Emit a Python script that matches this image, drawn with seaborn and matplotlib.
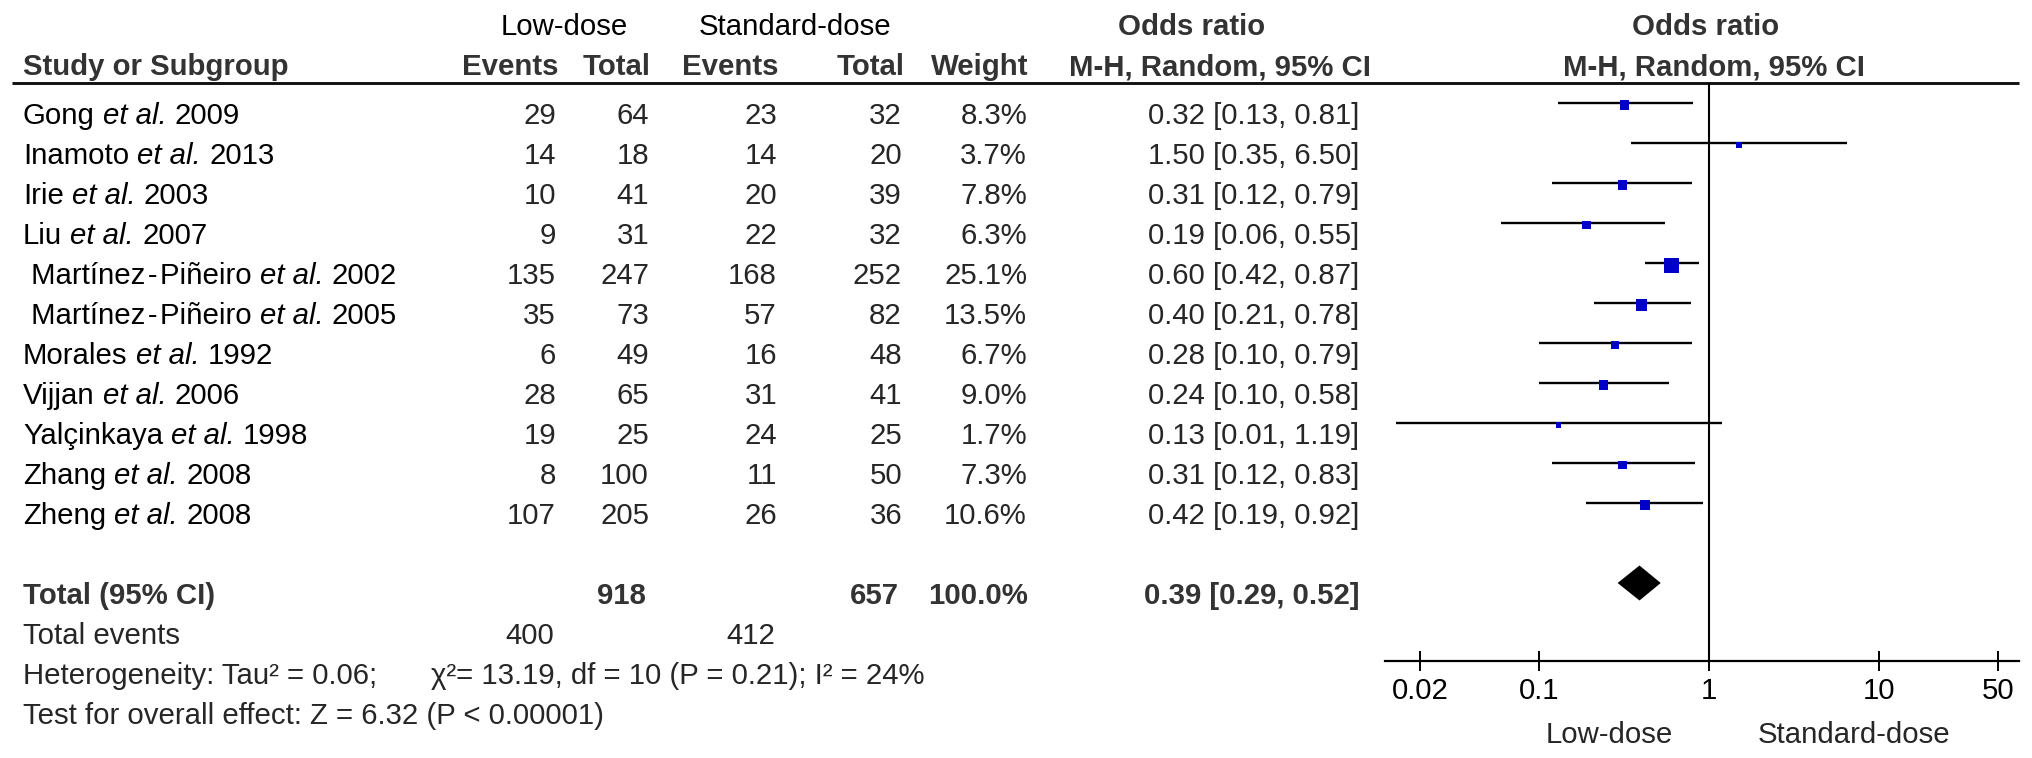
import matplotlib
matplotlib.use("Agg")
import matplotlib.pyplot as plt
import numpy as np
import pandas as pd
import seaborn as sns
from matplotlib.ticker import FixedLocator, FixedFormatter, NullLocator

# ---------------- data ----------------
studies = ["Gong", "Inamoto", "Irie", "Liu", " Martínez\u200a-\u200aPiñeiro", " Martínez\u200a-\u200aPiñeiro",
           "Morales", "Vijjan", "Yalçinkaya", "Zhang", "Zheng"]
years = [2009, 2013, 2003, 2007, 2002, 2005, 1992, 2006, 1998, 2008, 2008]
low_events = [29, 14, 10, 9, 135, 35, 6, 28, 19, 8, 107]
low_total = [64, 18, 41, 31, 247, 73, 49, 65, 25, 100, 205]
std_events = [23, 14, 20, 22, 168, 57, 16, 31, 24, 11, 26]
std_total = [32, 20, 39, 32, 252, 82, 48, 41, 25, 50, 36]
weights = [8.3, 3.7, 7.8, 6.3, 25.1, 13.5, 6.7, 9.0, 1.7, 7.3, 10.6]
odds = [0.32, 1.50, 0.31, 0.19, 0.60, 0.40, 0.28, 0.24, 0.13, 0.31, 0.42]
ci_low = [0.13, 0.35, 0.12, 0.06, 0.42, 0.21, 0.10, 0.10, 0.0145, 0.12, 0.19]
ci_high = [0.81, 6.50, 0.79, 0.55, 0.87, 0.78, 0.79, 0.58, 1.19, 0.83, 0.92]
total_or, total_lo, total_hi = 0.39, 0.29, 0.52
heterogeneity_a = "Heterogeneity: Tau² = 0.06;"
heterogeneity_b = "χ²= 13.19, df = 10 (P = 0.21); I² = 24%"
overall_effect = "Test for overall effect: Z = 6.32 (P < 0.00001)"
tick_values = [0.02, 0.1, 1, 10, 50]
tick_labels = ["0.02", "0.1", "1", "10", "50"]
favours_left = "Low-dose"
favours_right = "Standard-dose"

# ---------------- style ----------------
sns.set_theme(style="white")
plt.rcParams["font.family"] = ["Liberation Sans", "DejaVu Sans"]

W, H, DPI = 2032, 758, 100
FS = 21.2
SP = 0.278 * FS          # width of a space, points
BOLD_C = "#333333"
BLUE = "#0000c8"

fig = plt.figure(figsize=(W / DPI, H / DPI), dpi=DPI)
fig.patch.set_facecolor("white")

tab = fig.add_axes([0, 0, 1, 1])
tab.set_xlim(0, W)
tab.set_ylim(H, 0)
tab.axis("off")

ROW0_LINE = 103.0   # pixel y of first study's CI line
ROW_STEP = 40.0
TEXT_DROP = 21.5    # baseline below the CI line


def base(i):
    return ROW0_LINE + TEXT_DROP + ROW_STEP * i


def study_label(y, name, year):
    t1 = tab.text(X_NAME, y, name, ha="left", va="baseline", fontsize=FS, color="black")
    t2 = tab.annotate("et al.", xy=(1, 0), xycoords=t1, xytext=(SP, 0), textcoords="offset points",
                      ha="left", va="bottom", fontsize=FS, style="italic", color="black")
    tab.annotate(f"{year}", xy=(1, 0), xycoords=t2, xytext=(SP, 0), textcoords="offset points",
                 ha="left", va="bottom", fontsize=FS, color="black")


# columns (right edges in px)
X_NAME = 23
X_LE, X_LT, X_SE, X_ST, X_W, X_CI = 556, 649, 777, 902, 1027, 1359

# headers
tab.text(564, 35, "Low-dose", ha="center", va="baseline", fontsize=FS, color="black")
tab.text(795, 35, "Standard-dose", ha="center", va="baseline", fontsize=FS, color="black")
tab.text(1192, 35, "Odds ratio", ha="center", va="baseline", fontsize=FS, weight="bold", color=BOLD_C)
tab.text(1706, 35, "Odds ratio", ha="center", va="baseline", fontsize=FS, weight="bold", color=BOLD_C)
hdr_y = 75
tab.text(X_NAME, hdr_y, "Study or Subgroup", ha="left", va="baseline", fontsize=FS, weight="bold", color=BOLD_C)
for x, s in [(X_LE + 2, "Events"), (X_LT + 2, "Total"), (X_SE + 2, "Events"), (X_ST + 3, "Total"), (X_W + 1, "Weight")]:
    tab.text(x, hdr_y, s, ha="right", va="baseline", fontsize=FS, weight="bold", color=BOLD_C)
tab.text(1220, hdr_y, "M-H, Random, 95% CI", ha="center", va="baseline", fontsize=FS, weight="bold", color=BOLD_C)
tab.text(1714, hdr_y, "M-H, Random, 95% CI", ha="center", va="baseline", fontsize=FS, weight="bold", color=BOLD_C)
tab.plot([12, 2019], [83, 83], color="#111111", lw=2.1, solid_capstyle="butt")

# study rows
for i in range(len(studies)):
    y = base(i)
    study_label(y, studies[i], years[i])
    tab.text(X_LE, y, f"{low_events[i]}", ha="right", va="baseline", fontsize=FS)
    tab.text(X_LT, y, f"{low_total[i]}", ha="right", va="baseline", fontsize=FS)
    tab.text(X_SE, y, f"{std_events[i]}", ha="right", va="baseline", fontsize=FS)
    tab.text(X_ST, y, f"{std_total[i]}", ha="right", va="baseline", fontsize=FS)
    tab.text(X_W, y, f"{weights[i]:.1f}%", ha="right", va="baseline", fontsize=FS)
    tab.text(X_CI, y, f"{odds[i]:.2f} [{ci_low[i]:.2f}, {ci_high[i]:.2f}]", ha="right", va="baseline", fontsize=FS)

n = len(studies)
i_tot = n + 1
y = base(i_tot)
tab.text(X_NAME, y, "Total (95% CI)", ha="left", va="baseline", fontsize=FS, weight="bold", color=BOLD_C)
tab.text(X_LT - 3, y, f"{sum(low_total)}", ha="right", va="baseline", fontsize=FS, weight="bold", color=BOLD_C)
tab.text(X_ST - 3, y, f"{sum(std_total)}", ha="right", va="baseline", fontsize=FS, weight="bold", color=BOLD_C)
tab.text(X_W + 1, y, f"{sum(weights):.1f}%", ha="right", va="baseline", fontsize=FS, weight="bold", color=BOLD_C)
tab.text(X_CI, y, f"{total_or:.2f} [{total_lo:.2f}, {total_hi:.2f}]", ha="right", va="baseline", fontsize=FS, weight="bold", color=BOLD_C)

y = base(i_tot + 1)
tab.text(X_NAME, y, "Total events", ha="left", va="baseline", fontsize=FS)
tab.text(X_LE - 2, y, f"{sum(low_events)}", ha="right", va="baseline", fontsize=FS)
tab.text(X_SE - 2, y, f"{sum(std_events)}", ha="right", va="baseline", fontsize=FS)
y = base(i_tot + 2)
tab.text(X_NAME, y, heterogeneity_a, ha="left", va="baseline", fontsize=FS)
tab.text(431, y, heterogeneity_b, ha="left", va="baseline", fontsize=FS)
y = base(i_tot + 3)
tab.text(X_NAME, y, overall_effect, ha="left", va="baseline", fontsize=FS)

# ---------------- forest panel ----------------
X0, X1 = 1385, 2019
Y_TOP, Y_AXIS = 83, 661
fx = fig.add_axes([X0 / W, (H - Y_AXIS) / H, (X1 - X0) / W, (Y_AXIS - Y_TOP) / H])
fx.patch.set_alpha(0)
fx.set_xscale("log")
fx.set_xlim(0.01242, 66.6)
fx.set_ylim((Y_AXIS - ROW0_LINE) / ROW_STEP, (Y_TOP - ROW0_LINE) / ROW_STEP)

df = pd.DataFrame({"row": np.arange(n), "odds": odds, "lo": ci_low, "hi": ci_high, "weight": weights})
fx.hlines(df["row"], df["lo"], df["hi"], color="black", lw=1.7)
px = 0.72  # points per pixel at 100 dpi
sns.scatterplot(data=df.assign(row=df["row"] + 0.05), x="odds", y="row", size="weight",
                sizes=((5.5 * px) ** 2, (15 * px) ** 2), marker="s", color=BLUE,
                linewidth=0, legend=False, ax=fx, zorder=3)

half = 17.5 / ROW_STEP
fx.fill([total_lo, total_or, total_hi, total_or], [i_tot, i_tot - half, i_tot, i_tot + half],
        color="black", lw=0, zorder=3)
fx.axvline(1, color="black", lw=1.5, zorder=2)

for s in ["left", "right", "top"]:
    fx.spines[s].set_visible(False)
fx.spines["bottom"].set_color("black")
fx.spines["bottom"].set_linewidth(1.6)
fx.yaxis.set_visible(False)
fx.set_xlabel("")
fx.set_ylabel("")
fx.xaxis.set_major_locator(FixedLocator(tick_values))
fx.xaxis.set_major_formatter(FixedFormatter(tick_labels))
fx.xaxis.set_minor_locator(NullLocator())
fx.tick_params(axis="x", which="major", bottom=True, direction="inout", length=14.4, width=1.4,
               color="black", labelcolor="black", labelsize=FS, pad=4)

tab.text(1673, 743, favours_left, ha="right", va="baseline", fontsize=FS)
tab.text(1758, 743, favours_right, ha="left", va="baseline", fontsize=FS)

fig.savefig("out.png", dpi=DPI, facecolor="white")
